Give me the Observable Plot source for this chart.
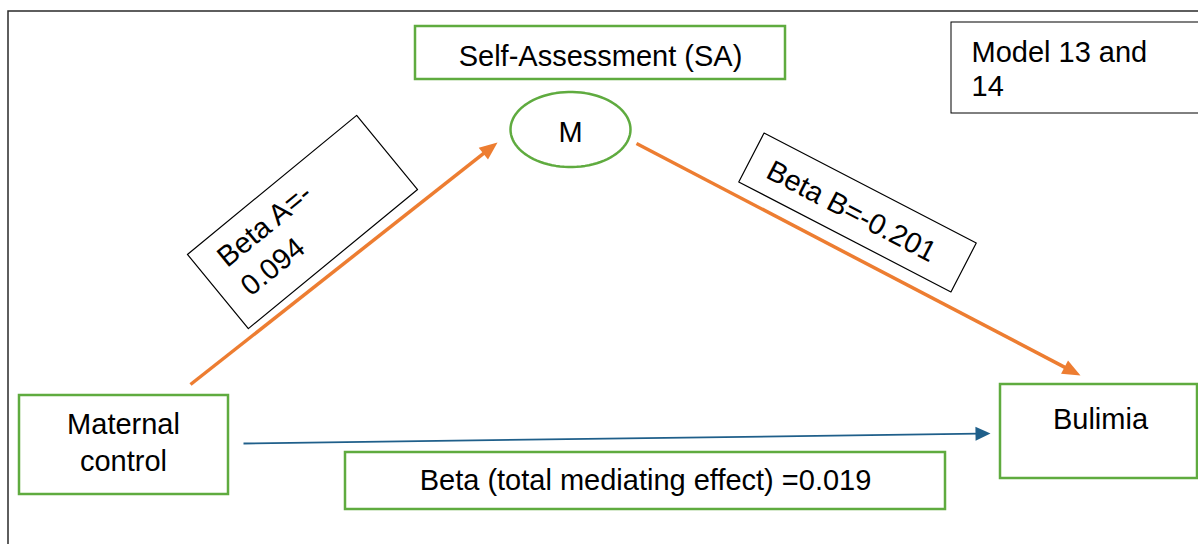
<!DOCTYPE html>
<html><head><meta charset="utf-8">
<script src="https://cdn.jsdelivr.net/npm/d3@7"></script>
<script src="https://cdn.jsdelivr.net/npm/@observablehq/plot@0.6"></script>
<style>
html,body{margin:0;padding:0;background:#fff;}
#chart{width:1198px;height:544px;overflow:hidden;}
#chart svg{display:block;}
</style>
</head><body><div id="chart"></div>
<script>
// ---------------- data ----------------
const nodeLabels   = ["Maternal\ncontrol", "M", "Bulimia"];
const mediatorName = ["Self-Assessment (SA)"];
const modelLabel   = ["Model 13 and\n14"];
const pathNames    = ["Beta A", "Beta B", "Beta (total mediating effect)"];
const pathBetas    = [-0.094, -0.201, 0.019];

// ---------------- layout (diagram geometry) ----------------
const W = 1198, H = 544;
const FONT = "Liberation Sans, Arial, Helvetica, sans-serif";
const GREEN = "#5fab3f", ORANGE = "#ed7d31", BLUE = "#1f5f8a";

const fmt = v => (v < 0 ? "-" : "") + Math.abs(v).toFixed(3);
const labelA = `${pathNames[0]}=${pathBetas[0] < 0 ? "-" : ""}\n${Math.abs(pathBetas[0]).toFixed(3)}`;
const labelB = `${pathNames[1]}=${fmt(pathBetas[1])}`;
const labelT = `${pathNames[2]} =${fmt(pathBetas[2])}`;

// green boxes
const greenBoxes = [
  {x1: 415, x2: 785, y1: 26, y2: 79},    // mediator name
  {x1: 19, x2: 228, y1: 395, y2: 494},   // X
  {x1: 1000, x2: 1197, y1: 384, y2: 478},// Y
  {x1: 345, x2: 945, y1: 452, y2: 509}   // total effect
];
const blackBoxes = [
  {x1: 951, x2: 1215, y1: 22, y2: 113},  // model box
];
const frame = [{x1: 8, x2: 1230, y1: 11, y2: 580}];

// rotated label boxes
function rotBox(id, cx, cy, w, h, deg) {
  const a = deg * Math.PI / 180, u = [Math.cos(a), Math.sin(a)], n = [-Math.sin(a), Math.cos(a)];
  return [[-1,-1],[1,-1],[1,1],[-1,1],[-1,-1]].map(([s, t]) => ({
    id, x: cx + s * u[0] * w / 2 + t * n[0] * h / 2, y: cy + s * u[1] * w / 2 + t * n[1] * h / 2
  }));
}
const angA = -39.4, angB = 27.4;
const rotBoxes = [...rotBox("A", 302, 221.5, 219, 96, angA), ...rotBox("B", 857, 212, 239, 55, angB)];

// ellipse for mediator M
const ell = {cx: 570, cy: 129, rx: 60, ry: 37.5};
const ellipsePts = d3.range(0, 361, 4).map(t => ({
  x: ell.cx + ell.rx * Math.cos(t * Math.PI / 180),
  y: ell.cy + ell.ry * Math.sin(t * Math.PI / 180)
}));

// arrows
const arrows = [
  {id: "a", x1: 190, y1: 384, x2: 497, y2: 142, color: ORANGE, w: 3.5, len: 18, hw: 15},
  {id: "b", x1: 636, y1: 143, x2: 1080, y2: 375, color: ORANGE, w: 3.5, len: 18, hw: 15},
  {id: "c", x1: 243, y1: 443, x2: 990, y2: 433, color: BLUE, w: 1.8, len: 15, hw: 14}
];
const shafts = arrows.map(d => {
  const L = Math.hypot(d.x2 - d.x1, d.y2 - d.y1), ux = (d.x2 - d.x1) / L, uy = (d.y2 - d.y1) / L;
  return {...d, x2: d.x2 - ux * d.len * 0.8, y2: d.y2 - uy * d.len * 0.8};
});
const heads = arrows.flatMap(d => {
  const L = Math.hypot(d.x2 - d.x1, d.y2 - d.y1), ux = (d.x2 - d.x1) / L, uy = (d.y2 - d.y1) / L;
  const bx = d.x2 - ux * d.len, by = d.y2 - uy * d.len, px = -uy * d.hw / 2, py = ux * d.hw / 2;
  return [
    {id: d.id, color: d.color, x: d.x2, y: d.y2},
    {id: d.id, color: d.color, x: bx + px, y: by + py},
    {id: d.id, color: d.color, x: bx - px, y: by - py},
    {id: d.id, color: d.color, x: d.x2, y: d.y2}
  ];
});

// text placements
const texts = [
  {t: mediatorName[0], x: 600, y: 56, anchor: "middle", la: "middle", lh: 1},
  {t: nodeLabels[1], x: 570, y: 132.7, anchor: "middle", la: "middle", lh: 1},
  {t: nodeLabels[0], x: 123, y: 440, anchor: "middle", la: "middle", lh: 1.28},
  {t: nodeLabels[2], x: 1100, y: 419.7, anchor: "middle", la: "middle", lh: 1},
  {t: labelT, x: 645, y: 480.7, anchor: "middle", la: "middle", lh: 1},
  {t: modelLabel[0], x: 971, y: 38, anchor: "start", la: "top", lh: 1.16}
];
const rotTexts = [
  {t: labelA, x: 231, y: 273, anchor: "start", rot: angA, lh: 1.28},
  {t: labelB, x: 851, y: 211, anchor: "middle", rot: angB, lh: 1}
];

const textMarks = texts.map(d => Plot.text([d], {
  x: "x", y: "y", text: "t", textAnchor: d.anchor, lineAnchor: d.la, lineHeight: d.lh,
  fontSize: 29, fontFamily: FONT, fill: "#000"
}));
const rotTextMarks = rotTexts.map(d => Plot.text([d], {
  x: "x", y: "y", text: "t", textAnchor: d.anchor, lineAnchor: "middle", lineHeight: d.lh,
  rotate: d.rot, fontSize: 29, fontFamily: FONT, fill: "#000"
}));

const chart = Plot.plot({
  width: W, height: H, margin: 0,
  x: {type: "linear", domain: [0, W], range: [0, W], axis: null},
  y: {type: "linear", domain: [0, H], range: [0, H], axis: null},
  style: {background: "#fff", fontFamily: FONT},
  marks: [
    Plot.rect(frame, {x1: "x1", x2: "x2", y1: "y1", y2: "y2", fill: "none", stroke: "#2a2a2a", strokeWidth: 1.5}),
    Plot.rect(greenBoxes, {x1: "x1", x2: "x2", y1: "y1", y2: "y2", fill: "#fff", stroke: GREEN, strokeWidth: 2.5}),
    Plot.rect(blackBoxes, {x1: "x1", x2: "x2", y1: "y1", y2: "y2", fill: "#fff", stroke: "#000", strokeWidth: 1}),
    Plot.line(rotBoxes, {x: "x", y: "y", z: "id", fill: "#fff", stroke: "#000", strokeWidth: 1.2}),
    Plot.line(ellipsePts, {x: "x", y: "y", stroke: GREEN, strokeWidth: 2.5, fill: "#fff", curve: "linear-closed"}),
    Plot.link(shafts, {x1: "x1", y1: "y1", x2: "x2", y2: "y2", stroke: d => d.color, strokeWidth: d => d.w}),
    Plot.line(heads, {x: "x", y: "y", z: "id", fill: "color", stroke: "none"}),
    ...textMarks,
    ...rotTextMarks
  ]
});
document.getElementById("chart").append(chart);
</script>
</body></html>
